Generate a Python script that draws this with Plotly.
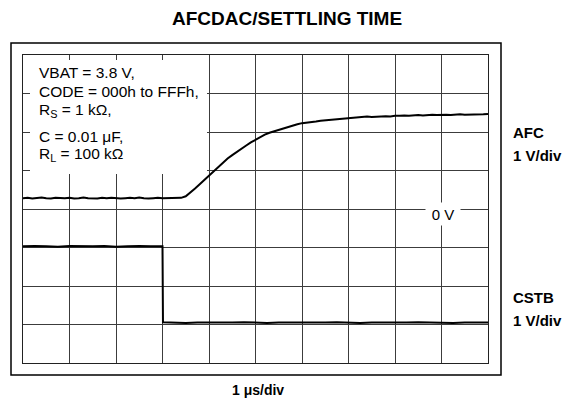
import numpy as np
import plotly.graph_objects as go

# ---- data (screen divisions: x 0..10 @ 1 us/div, y 0..8 @ 1 V/div) ----
afc_t = [round(i * 0.1, 1) for i in range(101)]
afc_v = [4.28, 4.29, 4.27, 4.28, 4.30, 4.28, 4.27, 4.29, 4.28, 4.28,
         4.29, 4.27, 4.28, 4.30, 4.28, 4.28, 4.27, 4.29, 4.28, 4.29,
         4.28, 4.27, 4.28, 4.29, 4.28, 4.30, 4.28, 4.27, 4.28, 4.29,
         4.28, 4.28, 4.29, 4.28, 4.29,
         4.33, 4.42, 4.53, 4.64, 4.75, 4.86, 4.98, 5.10, 5.21, 5.31,
         5.40, 5.49, 5.57, 5.65, 5.73, 5.80, 5.87, 5.93, 5.98, 6.02,
         6.05, 6.09, 6.13, 6.17, 6.20, 6.23,
         6.24, 6.26, 6.27, 6.29, 6.30, 6.31, 6.32, 6.34, 6.35, 6.37,
         6.37, 6.38, 6.39, 6.40, 6.39, 6.40, 6.41, 6.41, 6.40, 6.42,
         6.42, 6.43, 6.42, 6.43, 6.44, 6.43, 6.44, 6.45, 6.44, 6.45,
         6.45, 6.44, 6.45, 6.46, 6.45, 6.45, 6.46, 6.45, 6.46, 6.47]

cstb_t = [0, 0.25, 0.5, 0.75, 1.0, 1.25, 1.5, 1.75, 2.0, 2.25, 2.5, 2.75, 3.0,
          3.01, 3.25, 3.5, 3.75, 4.0, 4.25, 4.5, 4.75, 5.0, 5.25, 5.5, 5.75,
          6.0, 6.25, 6.5, 6.75, 7.0, 7.25, 7.5, 7.75, 8.0, 8.25, 8.5, 8.75,
          9.0, 9.25, 9.5, 9.75, 10.0]
cstb_v = [3.03, 3.04, 3.03, 3.02, 3.04, 3.03, 3.03, 3.04, 3.02, 3.03, 3.04, 3.03, 3.03,
          1.06, 1.05, 1.04, 1.05, 1.05, 1.04, 1.05, 1.06, 1.05, 1.04, 1.05, 1.05,
          1.04, 1.05, 1.05, 1.06, 1.05, 1.04, 1.05, 1.05, 1.04, 1.05, 1.06, 1.05,
          1.05, 1.04, 1.05, 1.05, 1.05]

title = "AFCDAC/SETTLING TIME"
cond_lines = ["VBAT = 3.8 V,", "CODE = 000h to FFFh,", "R<sub>S</sub> = 1 kΩ,",
              "C = 0.01 μF,", "R<sub>L</sub> = 100 kΩ"]
cond_y_px = [73, 92, 111, 136, 154]
x_label = "1 μs/div"
ch_labels = [("AFC", 132), ("1 V/div", 155), ("CSTB", 297), ("1 V/div", 320)]

W, H = 569, 402
L, R, T, B = 23, 488, 55, 363
FONT = "Arial, Liberation Sans, sans-serif"


def px(x):
    return (x - L) / (R - L)


def py(y):
    return (B - y) / (B - T)


fig = go.Figure()
fig.add_trace(go.Scatter(x=afc_t, y=afc_v, mode="lines",
                         line=dict(color="black", width=2), hoverinfo="skip"))
fig.add_trace(go.Scatter(x=cstb_t, y=cstb_v, mode="lines",
                         line=dict(color="black", width=2, shape="linear"), hoverinfo="skip"))

axis_common = dict(showgrid=True, gridcolor="#3c3c3c", gridwidth=1,
                   showline=True, linecolor="#222", linewidth=1, mirror=True,
                   showticklabels=False, ticks="", zeroline=False, fixedrange=True)
fig.update_xaxes(range=[0, 10], dtick=1, tick0=0, **axis_common)
fig.update_yaxes(range=[0, 8], dtick=1, tick0=0, **axis_common)

shapes = []
# outer frame
shapes.append(dict(type="rect", xref="paper", yref="paper",
                   x0=px(11), x1=px(501), y0=py(375), y1=py(43),
                   line=dict(color="black", width=1.5), fillcolor="rgba(0,0,0,0)",
                   layer="above"))
# conditions box (white, covers grid)
shapes.append(dict(type="rect", xref="paper", yref="paper",
                   x0=px(30), x1=px(207), y0=py(174), y1=py(60),
                   line=dict(width=0), fillcolor="white", layer="above"))

annotations = []
annotations.append(dict(text="<b>" + title + "</b>", xref="paper", yref="paper",
                        x=px(287), y=py(18), xanchor="center", yanchor="middle",
                        showarrow=False, font=dict(family=FONT, size=19, color="black")))
for txt, yy in zip(cond_lines, cond_y_px):
    annotations.append(dict(text=txt, xref="paper", yref="paper",
                            x=px(37), y=py(yy), xanchor="left", yanchor="middle",
                            showarrow=False, font=dict(family=FONT, size=15.5, color="black")))
for txt, yy in ch_labels:
    annotations.append(dict(text="<b>" + txt + "</b>", xref="paper", yref="paper",
                            x=px(511), y=py(yy), xanchor="left", yanchor="middle",
                            showarrow=False, font=dict(family=FONT, size=15, color="black")))
annotations.append(dict(text="<b>" + x_label + "</b>", xref="paper", yref="paper",
                        x=px(258), y=py(390), xanchor="center", yanchor="middle",
                        showarrow=False, font=dict(family=FONT, size=14, color="black")))
annotations.append(dict(text="0 V", xref="x", yref="y", x=9.03, y=3.87,
                        xanchor="center", yanchor="middle", showarrow=False,
                        bgcolor="white", borderpad=2, width=30, height=18,
                        font=dict(family=FONT, size=15, color="black")))

fig.update_layout(width=W, height=H, autosize=False,
                  margin=dict(l=L, r=W - R, t=T, b=H - B, pad=0),
                  paper_bgcolor="white", plot_bgcolor="white",
                  showlegend=False, shapes=shapes, annotations=annotations)

fig.write_html("out.html", config={"displayModeBar": False},
               post_script="document.body.style.margin='0';document.body.style.padding='0';document.body.style.overflow='hidden';")
